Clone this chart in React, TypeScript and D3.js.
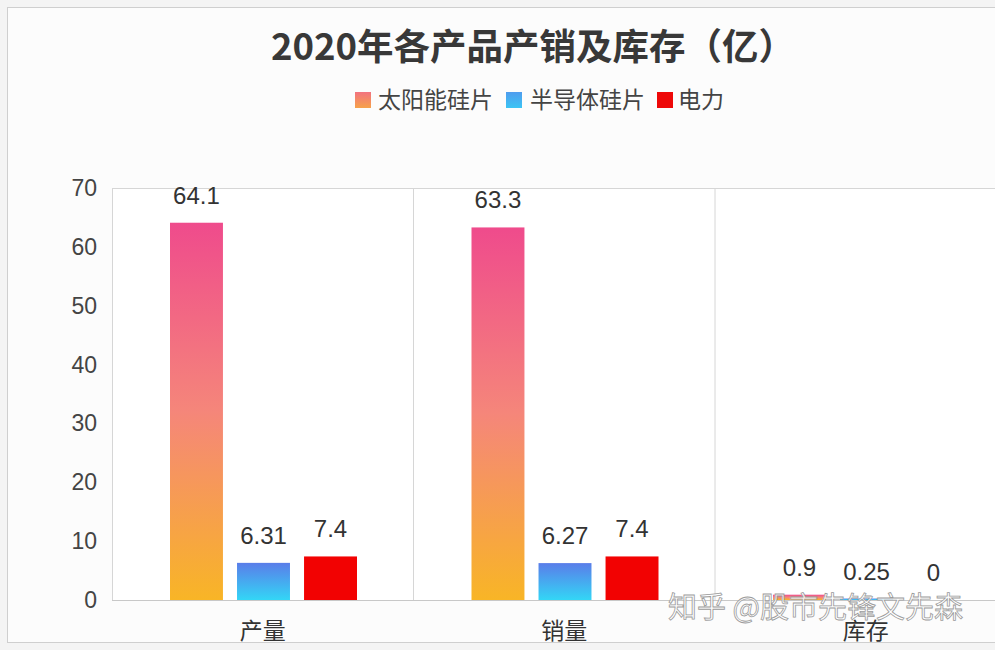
import React from "react";
import * as d3 from "d3";

const categories = ["产量", "销量", "库存"];
const seriesNames = ["太阳能硅片", "半导体硅片", "电力"];
const solar = [64.1, 63.3, 0.9];
const semi = [6.31, 6.27, 0.25];
const power = [7.4, 7.4, 0];
const yTicks = [0, 10, 20, 30, 40, 50, 60, 70];

const W = 995;
const H = 650;
const FONT = "'Noto Sans CJK SC', 'Noto Sans', sans-serif";
const NUMFONT = "'Liberation Sans', 'Noto Sans CJK SC', sans-serif";

export default function App() {
  const left = 112;
  const top = 188;
  const bottom = 600;
  const bandW = 301.5;
  const x = d3.scaleBand<string>().domain(categories).range([left, left + bandW * 3]).padding(0);
  const xs = d3.scaleBand<string>().domain(seriesNames).range([58, 245]).paddingInner(0.21).paddingOuter(0);
  const y = d3.scaleLinear().domain([0, 70]).range([bottom, top]);
  const data = [solar, semi, power];
  const fills = ["url(#gSolar)", "url(#gSemi)", "#f20202"];
  const fmt = (v: number) => String(v);

  const legend = [
    { name: seriesNames[0], fill: "url(#gSolarLeg)", x: 355, tx: 378 },
    { name: seriesNames[1], fill: "url(#gSemiLeg)", x: 506, tx: 530 },
    { name: seriesNames[2], fill: "#ee0808", x: 657, tx: 678 },
  ];

  return (
    <svg width={W} height={H} style={{ position: "absolute", left: 0, top: 0, fontFamily: FONT }}>
      <defs>
        <linearGradient id="gSolar" x1="0" y1="0" x2="0" y2="1">
          <stop offset="0%" stopColor="#ef4b8c" />
          <stop offset="50%" stopColor="#f5867a" />
          <stop offset="100%" stopColor="#f8b526" />
        </linearGradient>
        <linearGradient id="gSemi" x1="0" y1="0" x2="0" y2="1">
          <stop offset="0%" stopColor="#5a7de9" />
          <stop offset="100%" stopColor="#33d6f6" />
        </linearGradient>
        <linearGradient id="gSolarLeg" x1="0" y1="0" x2="0" y2="1">
          <stop offset="0%" stopColor="#f2737f" />
          <stop offset="100%" stopColor="#f6a24a" />
        </linearGradient>
        <linearGradient id="gSemiLeg" x1="0" y1="0" x2="0" y2="1">
          <stop offset="0%" stopColor="#4f9cee" />
          <stop offset="100%" stopColor="#3cc4f4" />
        </linearGradient>
      </defs>
      <rect x={0} y={0} width={W} height={H} fill="#f4f4f4" />
      <rect x={7.5} y={7.5} width={W + 20} height={635} fill="#fcfcfc" stroke="#cfcfcf" strokeWidth={1} />

      <text x={533} y={60} textAnchor="middle" fontSize={36.5} fontWeight={700} fill="#383838">
        2020年各产品产销及库存（亿）
      </text>

      {/* legend */}
      {legend.map((d) => (
        <g key={d.name}>
          <rect x={d.x} y={92} width={16} height={16} fill={d.fill} />
          <text x={d.tx} y={108} fontSize={23} fill="#444">
            {d.name}
          </text>
        </g>
      ))}

      {/* plot frame */}
      <rect x={left + 0.5} y={top + 0.5} width={bandW * 3} height={bottom - top} fill="#ffffff" stroke="#d6d6d6" />
      {categories.slice(1).map((c) => (
        <line key={c} x1={x(c)!} x2={x(c)!} y1={top} y2={bottom} stroke="#d6d6d6" />
      ))}
      <line x1={left} x2={W} y1={bottom + 0.5} y2={bottom + 0.5} stroke="#c8c8c8" />

      {/* y ticks */}
      {yTicks.map((t) => (
        <text key={t} x={97} y={y(t) + 8} textAnchor="end" fontSize={23} fill="#444" fontFamily={NUMFONT}>
          {t}
        </text>
      ))}

      {/* bars */}
      {categories.map((c, ci) => (
        <g key={c}>
          {seriesNames.map((s, si) => {
            const v = data[si][ci];
            const bx = x(c)! + xs(s)!;
            return (
              <g key={s}>
                <rect x={bx} y={y(v)} width={xs.bandwidth()} height={bottom - y(v)} fill={fills[si]} />
                <text
                  x={bx + xs.bandwidth() / 2}
                  y={y(v) - 19}
                  textAnchor="middle"
                  fontSize={24}
                  fill="#333"
                  fontFamily={NUMFONT}
                >
                  {fmt(v)}
                </text>
              </g>
            );
          })}
          <text x={x(c)! + bandW / 2} y={639} textAnchor="middle" fontSize={23} fill="#333">
            {c}
          </text>
        </g>
      ))}

      {/* watermark */}
      <text x={668} y={618} fontSize={29} fill="#ffffff" fillOpacity={0.85} stroke="#9a9a9a" strokeWidth={0.8}>
        知乎 @股市先锋文先森
      </text>
    </svg>
  );
}
